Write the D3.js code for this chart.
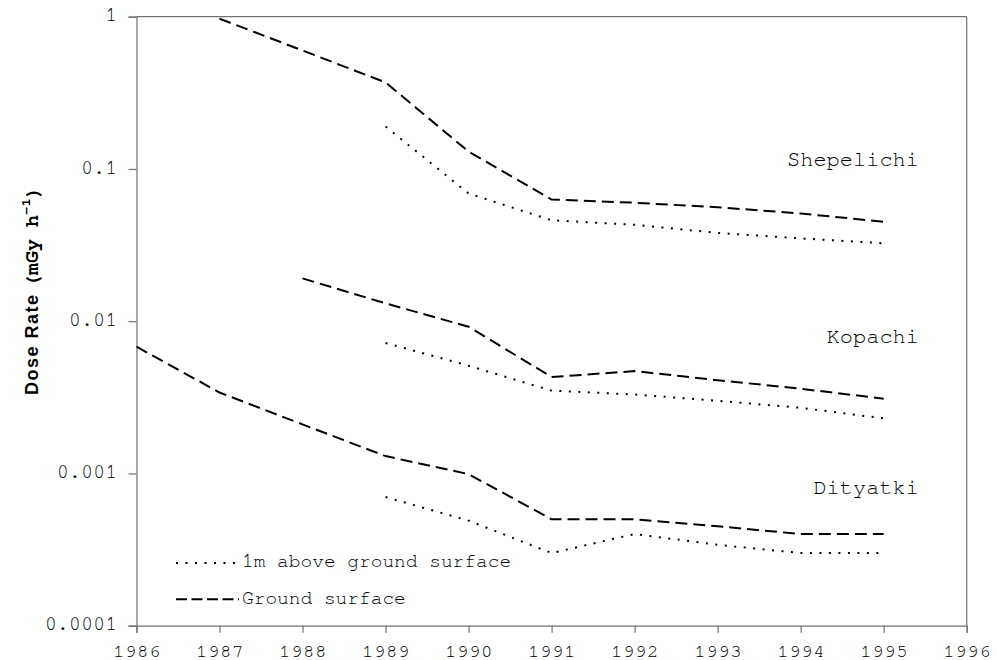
<!DOCTYPE html>
<html>
<head>
<meta charset="utf-8">
<script src="https://cdn.jsdelivr.net/npm/d3@7"></script>
<style>
  html, body { margin: 0; padding: 0; background: #fff; }
  svg { display: block; }
</style>
</head>
<body>
<svg id="chart" width="997" height="660"></svg>
<script>
// ---- data ----
const xTicks = [1986, 1987, 1988, 1989, 1990, 1991, 1992, 1993, 1994, 1995, 1996];
const yTicks = [1, 0.1, 0.01, 0.001, 0.0001];
const yTickLabels = ["1", "0.1", "0.01", "0.001", "0.0001"];

const shepGroundYears = [1987, 1988, 1989, 1990, 1991, 1992, 1993, 1994, 1995];
const shepGround      = [0.97, 0.60, 0.37, 0.13, 0.063, 0.060, 0.056, 0.051, 0.045];
const shepAirYears    = [1989, 1990, 1991, 1992, 1993, 1994, 1995];
const shepAir         = [0.19, 0.069, 0.046, 0.043, 0.038, 0.035, 0.0325];

const kopGroundYears  = [1988, 1989, 1990, 1991, 1992, 1993, 1994, 1995];
const kopGround       = [0.0191, 0.0131, 0.0092, 0.0043, 0.0047, 0.0041, 0.0036, 0.0031];
const kopAirYears     = [1989, 1990, 1991, 1992, 1993, 1994, 1995];
const kopAir          = [0.0072, 0.0051, 0.0035, 0.0033, 0.0030, 0.0027, 0.0023];

const dityGroundYears = [1986, 1987, 1988, 1989, 1990, 1991, 1992, 1993, 1994, 1995];
const dityGround      = [0.0068, 0.0034, 0.0021, 0.0013, 0.00099, 0.0005, 0.0005, 0.00045, 0.0004, 0.0004];
const dityAirYears    = [1989, 1990, 1991, 1992, 1993, 1994, 1995];
const dityAir         = [0.0007, 0.00049, 0.0003, 0.0004, 0.00034, 0.0003, 0.0003];

const siteNames = ["Shepelichi", "Kopachi", "Dityatki"];
const siteLabelValues = [0.1045, 0.00716, 0.000733];
const legendLabels = ["1m above ground surface", "Ground surface"];

// ---- layout ----
const svg = d3.select("#chart");
const L = 136.5, R = 966.7, T = 16.7, B = 625.7;
const x = d3.scaleLinear().domain([1986, 1996]).range([L, R]);
const y = d3.scaleLog().domain([0.0001, 1]).range([B, T]);
const axisColor = "#707070";
const mono = "FreeMono, 'Liberation Mono', 'Courier New', monospace";
const textColor = "#000";

// frame (top and right)
svg.append("line").attr("x1", L).attr("x2", R).attr("y1", T).attr("y2", T)
  .attr("stroke", axisColor).attr("stroke-width", 1.2);
svg.append("line").attr("x1", R).attr("x2", R).attr("y1", T).attr("y2", B)
  .attr("stroke", axisColor).attr("stroke-width", 1.2);

// axes
const xAxis = d3.axisBottom(x).tickValues(xTicks).tickFormat(d3.format("d")).tickSize(7).tickPadding(12);
const gx = svg.append("g").attr("transform", `translate(0,${B})`).call(xAxis);
gx.select(".domain").attr("stroke", axisColor).attr("stroke-width", 1.2);
gx.selectAll(".tick line").attr("stroke", axisColor).attr("stroke-width", 1.2);
gx.selectAll(".tick text").attr("fill", textColor).attr("y", 31.6).attr("dy", null)
  .style("font-family", mono).style("font-size", "19px").style("letter-spacing", "0.6px");

const yAxis = d3.axisLeft(y).tickValues(yTicks)
  .tickFormat((d, i) => yTickLabels[i]).tickSize(8).tickPadding(11);
const gy = svg.append("g").attr("transform", `translate(${L},0)`).call(yAxis);
gy.select(".domain").attr("stroke", axisColor).attr("stroke-width", 1.2);
gy.selectAll(".tick line").attr("stroke", axisColor).attr("stroke-width", 1.2);
gy.selectAll(".tick text").attr("fill", textColor).attr("dy", "0.22em")
  .style("font-family", mono).style("font-size", "19.5px").style("letter-spacing", "0.4px");

// lines
const dashed = "12 6", dotted = "2 7.5";
const series = [
  [shepGroundYears, shepGround, dashed],
  [shepAirYears, shepAir, dotted],
  [kopGroundYears, kopGround, dashed],
  [kopAirYears, kopAir, dotted],
  [dityGroundYears, dityGround, dashed],
  [dityAirYears, dityAir, dotted]
];
const line = d3.line().x(d => x(d[0])).y(d => y(d[1]));
series.forEach(([yrs, vals, dash]) => {
  svg.append("path")
    .attr("d", line(yrs.map((yr, i) => [yr, vals[i]])))
    .attr("fill", "none").attr("stroke", "#000")
    .attr("stroke-width", 2)
    .attr("stroke-dasharray", dash);
});

// site labels
siteNames.forEach((name, i) => {
  svg.append("text").attr("x", 919).attr("y", y(siteLabelValues[i]))
    .attr("text-anchor", "end").attr("fill", textColor)
    .style("font-family", mono).style("font-size", "22px")
    .text(name);
});

// legend
const legY = [563, 599.3];
const legDash = [dotted, "11 4.5"];
legendLabels.forEach((lab, i) => {
  svg.append("line").attr("x1", 176).attr("x2", 239).attr("y1", legY[i]).attr("y2", legY[i])
    .attr("stroke", "#000").attr("stroke-width", 2).attr("stroke-dasharray", legDash[i]);
  svg.append("text").attr("x", 242).attr("y", legY[i] + 4.2).attr("fill", textColor)
    .style("font-family", mono).style("font-size", "19.5px")
    .text(lab);
});

// y axis title
const yt = svg.append("text").attr("transform", "translate(38,395) rotate(-90)")
  .attr("fill", textColor).style("font-weight", "bold");
yt.append("tspan").style("font-family", "'Liberation Sans', Arial, sans-serif")
  .style("font-size", "18px").style("letter-spacing", "1.5px").text("Dose Rate ");
yt.append("tspan").style("font-family", mono).style("font-size", "20px").text("(mGy h");
yt.append("tspan").style("font-family", mono).style("font-size", "14px").attr("dy", "-8").text("-1");
yt.append("tspan").style("font-family", mono).style("font-size", "20px").attr("dy", "8").text(")");
</script>
</body>
</html>
